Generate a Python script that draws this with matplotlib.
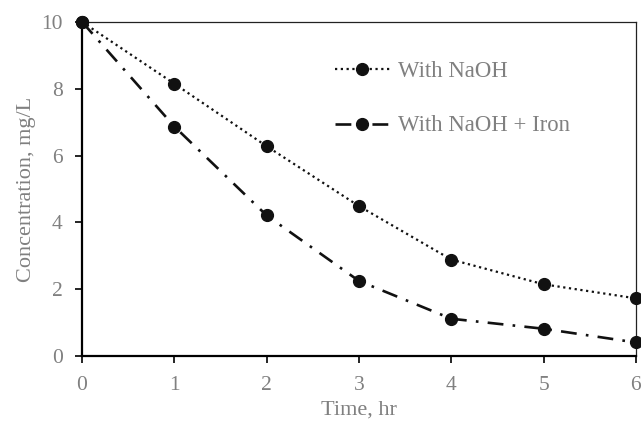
import numpy as np
import matplotlib
matplotlib.use("Agg")
import matplotlib.pyplot as plt

time_hr = [0, 1, 2, 3, 4, 5, 6]
naoh = [10, 8.15, 6.28, 4.49, 2.89, 2.15, 1.73]
naoh_iron = [10, 6.87, 4.21, 2.25, 1.12, 0.82, 0.41]

grey = "#808080"
plt.rcParams["font.family"] = ["Liberation Serif", "DejaVu Serif"]

fig = plt.figure(figsize=(6.41, 4.21), dpi=100)
ax = fig.add_axes([0.128, 0.154, 0.864, 0.794])

ax.plot(time_hr, naoh, color="#111111", linestyle=(0, (1, 1.6)), linewidth=1.6,
        marker="o", markersize=8.5, label="With NaOH", clip_on=False, zorder=3)
ax.plot(time_hr, naoh_iron, color="#111111", linestyle=(0, (6, 3.5, 1, 3.5)), linewidth=1.9,
        marker="o", markersize=8.5, label="With NaOH + Iron", clip_on=False, zorder=3)

ax.set_xlim(0, 6)
ax.set_ylim(0, 10)
ax.set_xticks(range(0, 7))
ax.set_yticks(range(0, 11, 2))

for s in ["left", "bottom"]:
    ax.spines[s].set_linewidth(1.6)
    ax.spines[s].set_color("black")
for s in ["top", "right"]:
    ax.spines[s].set_linewidth(0.9)
    ax.spines[s].set_color("#222222")

ax.tick_params(axis="both", direction="out", length=5, width=1.2, color="black",
               labelcolor=grey, labelsize=15.5)
ax.tick_params(axis="x", pad=9)
ax.tick_params(axis="y", pad=9)

ax.set_xlabel("Time, hr", color=grey, fontsize=16, labelpad=4.5)
ax.set_ylabel("Concentration, mg/L", color=grey, fontsize=16, labelpad=4)

leg = ax.legend(loc="upper left", bbox_to_anchor=(0.42, 0.943), frameon=False,
                fontsize=16.4, labelspacing=1.45, handlelength=2.4, handletextpad=0.35,
                labelcolor=grey)

fig.savefig("out.png", dpi=100)
